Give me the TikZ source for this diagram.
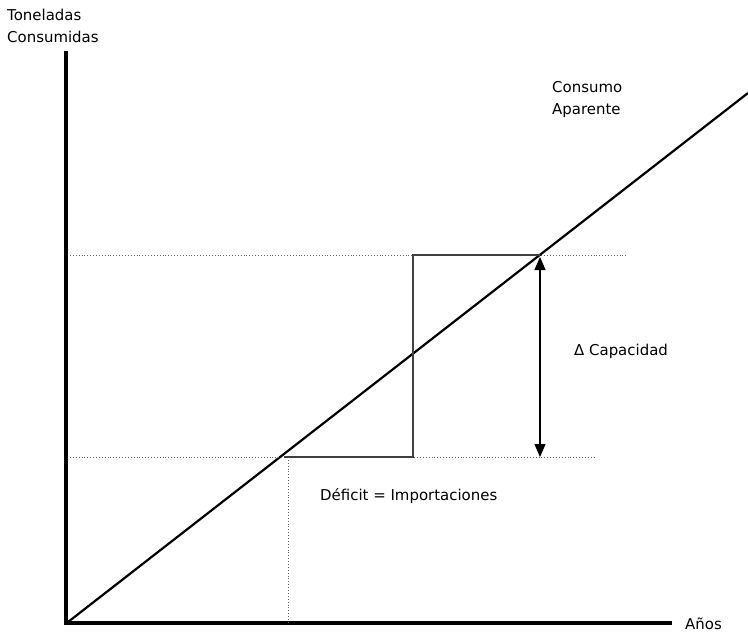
\documentclass[tikz,border=0pt]{standalone}
\usepackage{fontspec}
\setmainfont{DejaVu Sans}
\usetikzlibrary{arrows.meta}
\begin{document}
\begin{tikzpicture}[x=1bp,y=-1bp,
  axis/.style={line width=4.5bp,line cap=rect},
  demand/.style={line width=2.2bp},
  guide/.style={line width=0.9bp,dotted,black!60},
  boxline/.style={line width=1.1bp,black!75},
  span/.style={line width=1.1bp,{Triangle[length=13bp,width=11bp]}-{Triangle[length=13bp,width=11bp]}},
  lbl/.style={font=\fontsize{15}{23}\selectfont,inner sep=0pt,align=left,anchor=base west}]
\useasboundingbox (0,0) rectangle (748,635);
% axes
\coordinate (O) at (66,623);
\coordinate (Ytop) at (66,53);
\coordinate (Xend) at (670,623);
\draw[axis] (Ytop) -- (O) -- (Xend);
% apparent consumption line
\coordinate (Dstart) at (68,622);
\coordinate (Dend) at (748,93);
\draw[demand] (Dstart) -- (Dend);
% guide levels
\coordinate (Lhi) at (70,255);
\coordinate (Rhi) at (628,255);
\coordinate (Llo) at (70,457);
\coordinate (Rlo) at (595,457);
\draw[guide] (Lhi) -- (Rhi);
\draw[guide] (Llo) -- (Rlo);
\coordinate (Pa) at (284,457);
\coordinate (Pb) at (413,457);
\coordinate (Pc) at (413,255);
\coordinate (Pd) at (540,255);
\coordinate (Pfoot) at (288,623);
\coordinate (Ptop) at (288,457);
\draw[guide] (Ptop) -- (Pfoot);
\draw[boxline] (Pa) -- (Pb) -- (Pc) -- (Pd);
% capacity increment
\coordinate (Atop) at (540,257);
\coordinate (Abot) at (540,457);
\draw[span] (Atop) -- (Abot);
% labels (base anchor sits on the last line)
\node[lbl] (yl) at (7,43) {Toneladas\\Consumidas};
\node[lbl] (cl) at (552,115) {Consumo\\Aparente};
\node[lbl] (dl) at (574,355) {Δ Capacidad};
\node[lbl] (fl) at (320,500) {Déficit = Importaciones};
\node[lbl] (xl) at (685,629) {Años};
\end{tikzpicture}
\end{document}
